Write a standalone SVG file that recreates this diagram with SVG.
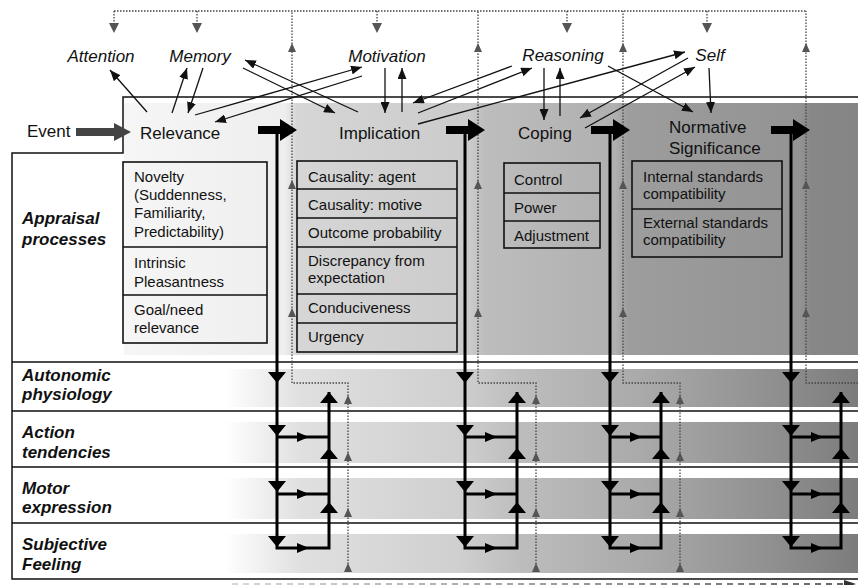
<svg xmlns="http://www.w3.org/2000/svg" width="858" height="585" viewBox="0 0 858 585">
<defs>
<linearGradient id="gTop" gradientUnits="userSpaceOnUse" x1="0" y1="0" x2="858" y2="0">
<stop offset="0.143" stop-color="#f6f6f6"/>
<stop offset="0.332" stop-color="#eeeeee"/>
<stop offset="0.346" stop-color="#d6d6d6"/>
<stop offset="0.548" stop-color="#cbcbcb"/>
<stop offset="0.564" stop-color="#bdbdbd"/>
<stop offset="0.717" stop-color="#b0b0b0"/>
<stop offset="0.732" stop-color="#9d9d9d"/>
<stop offset="0.932" stop-color="#939393"/>
<stop offset="0.946" stop-color="#878787"/>
<stop offset="1" stop-color="#858585"/>
</linearGradient>
<linearGradient id="gRow" gradientUnits="userSpaceOnUse" x1="0" y1="0" x2="858" y2="0">
<stop offset="0.262" stop-color="#ffffff"/>
<stop offset="0.35" stop-color="#e0e0e0"/>
<stop offset="0.536" stop-color="#cfcfcf"/>
<stop offset="0.606" stop-color="#bdbdbd"/>
<stop offset="0.746" stop-color="#aaaaaa"/>
<stop offset="0.909" stop-color="#8e8e8e"/>
<stop offset="1" stop-color="#7c7c7c"/>
</linearGradient>
<linearGradient id="gDash" gradientUnits="userSpaceOnUse" x1="230" y1="0" x2="858" y2="0">
<stop offset="0" stop-color="#cccccc"/>
<stop offset="1" stop-color="#333333"/>
</linearGradient>
<marker id="ah" viewBox="0 0 11 9" refX="11" refY="4.5" markerWidth="11" markerHeight="9" markerUnits="userSpaceOnUse" orient="auto">
<path d="M0,0 L11,4.5 L0,9 z" fill="#111"/>
</marker>
<marker id="ahg" viewBox="0 0 10 8" refX="10" refY="4" markerWidth="10" markerHeight="8" markerUnits="userSpaceOnUse" orient="auto">
<path d="M0,0 L10,4 L0,8 z" fill="#444"/>
</marker>
<style>
.t{font-family:"Liberation Sans",Arial,Helvetica,sans-serif;fill:#111}
.lab{font-size:17px;font-style:italic}
.stg{font-size:17px}
.row{font-size:17px;font-weight:bold;font-style:italic}
.bx{font-size:15px}
.box{fill:none;stroke:#111;stroke-width:1.6}
.frame{fill:none;stroke:#111;stroke-width:1.5}
.ta{fill:none;stroke:#111;stroke-width:1.3;marker-end:url(#ah)}
.sol{fill:none;stroke:#000;stroke-width:3}
.tri{fill:#000}
.dot{fill:none;stroke:#444;stroke-width:1.3;stroke-dasharray:1.5 1.5}
.gtri{fill:#555}
</style>
</defs>
<rect x="0" y="0" width="858" height="585" fill="#ffffff"/>

<g id="shading">
<rect x="124" y="103" width="734" height="252" fill="url(#gTop)"/>
<rect x="13" y="369" width="845" height="38" fill="url(#gRow)"/>
<rect x="13" y="422" width="845" height="41" fill="url(#gRow)"/>
<rect x="13" y="478" width="845" height="41" fill="url(#gRow)"/>
<rect x="13" y="534" width="845" height="39" fill="url(#gRow)"/>
</g>

<g id="frame">
<path class="frame" d="M858,97 H123 V153 H12 V579 H858"/>
<path class="frame" d="M12,362 H858 M12,411 H858 M12,467 H858 M12,523 H858"/>
<path d="M232,584 H846" fill="none" stroke="url(#gDash)" stroke-width="1.5" stroke-dasharray="6 5"/>
<path d="M844,580 L856,584 L844,588 z" fill="#333"/>
</g>

<g id="event">
<text class="t stg" x="27" y="137">Event</text>
<path d="M76,128 H116 V136 H76 z" fill="#444"/>
<path d="M114,123 L131,132 L114,141 z" fill="#444"/>
</g>

<g id="relevance">
<text class="t stg" x="140" y="139">Relevance</text>
<rect class="box" x="123" y="162" width="144" height="181"/>
<path class="box" d="M123,247 H267 M123,295 H267"/>
<text class="t bx" x="134" y="182">Novelty</text>
<text class="t bx" x="134" y="200">(Suddenness,</text>
<text class="t bx" x="134" y="218">Familiarity,</text>
<text class="t bx" x="134" y="237">Predictability)</text>
<text class="t bx" x="134" y="268">Intrinsic</text>
<text class="t bx" x="134" y="287">Pleasantness</text>
<text class="t bx" x="134" y="315">Goal/need</text>
<text class="t bx" x="134" y="333">relevance</text>
</g>

<g id="implication">
<text class="t stg" x="339" y="139">Implication</text>
<rect class="box" x="297" y="161" width="160" height="191"/>
<path class="box" d="M297,189 H457 M297,218 H457 M297,247 H457 M297,294 H457 M297,323 H457"/>
<text class="t bx" x="308" y="182">Causality: agent</text>
<text class="t bx" x="308" y="210">Causality: motive</text>
<text class="t bx" x="308" y="238">Outcome probability</text>
<text class="t bx" x="308" y="266">Discrepancy from</text>
<text class="t bx" x="308" y="283">expectation</text>
<text class="t bx" x="308" y="313">Conduciveness</text>
<text class="t bx" x="308" y="342">Urgency</text>
</g>

<g id="coping">
<text class="t stg" x="518" y="139">Coping</text>
<rect class="box" x="504" y="163" width="96" height="85"/>
<path class="box" d="M504,193 H600 M504,221 H600"/>
<text class="t bx" x="514" y="185">Control</text>
<text class="t bx" x="514" y="213">Power</text>
<text class="t bx" x="514" y="241">Adjustment</text>
</g>

<g id="normative">
<text class="t stg" x="669" y="133">Normative</text>
<text class="t stg" x="669" y="154">Significance</text>
<rect class="box" x="632" y="161" width="150" height="96"/>
<path class="box" d="M632,209 H782"/>
<text class="t bx" x="643" y="182">Internal standards</text>
<text class="t bx" x="643" y="199">compatibility</text>
<text class="t bx" x="643" y="228">External standards</text>
<text class="t bx" x="643" y="245">compatibility</text>
</g>

<g id="attention"><text class="t lab" x="101" y="62" text-anchor="middle">Attention</text></g>
<g id="memory"><text class="t lab" x="200" y="62" text-anchor="middle">Memory</text></g>
<g id="motivation"><text class="t lab" x="387" y="62" text-anchor="middle">Motivation</text></g>
<g id="reasoning"><text class="t lab" x="563" y="61" text-anchor="middle">Reasoning</text></g>
<g id="self"><text class="t lab" x="710" y="61" text-anchor="middle">Self</text></g>

<g id="row-labels">
<text class="t row" x="22" y="224">Appraisal</text>
<text class="t row" x="22" y="245">processes</text>
<text class="t row" x="22" y="381">Autonomic</text>
<text class="t row" x="22" y="400">physiology</text>
<text class="t row" x="22" y="438">Action</text>
<text class="t row" x="22" y="458">tendencies</text>
<text class="t row" x="22" y="494">Motor</text>
<text class="t row" x="22" y="513">expression</text>
<text class="t row" x="22" y="550">Subjective</text>
<text class="t row" x="22" y="570">Feeling</text>
</g>

<g id="connectors">
<!-- dotted feedback loops -->
<path class="dot" d="M114,11 H806 M114,11 V24 M197,11 V24 M377,11 V24 M567,11 V24 M707,11 V24"/>
<path class="gtri" d="M109,23 L119,23 L114,33 z M192,23 L202,23 L197,33 z M372,23 L382,23 L377,33 z M562,23 L572,23 L567,33 z M702,23 L712,23 L707,33 z"/>
<path class="dot" d="M348,570 V383 H292 V11"/>
<path class="dot" d="M536,570 V383 H478 V11"/>
<path class="dot" d="M680,570 V383 H623 V11"/>
<path class="dot" d="M858,383 H806 V11"/>
<path class="gtri" d="M292,43 L296,52 L288,52 z M292,180 L296,189 L288,189 z M292,308 L296,317 L288,317 z
 M478,43 L482,52 L474,52 z M478,180 L482,189 L474,189 z M478,308 L482,317 L474,317 z
 M623,43 L627,52 L619,52 z M623,180 L627,189 L619,189 z M623,308 L627,317 L619,317 z
 M806,43 L810,52 L802,52 z M806,180 L810,189 L802,189 z M806,308 L810,317 L802,317 z
 M348,395 L352,404 L344,404 z M348,452 L352,461 L344,461 z M348,508 L352,517 L344,517 z M348,563 L352,572 L344,572 z
 M536,395 L540,404 L532,404 z M536,452 L540,461 L532,461 z M536,508 L540,517 L532,517 z M536,563 L540,572 L532,572 z
 M680,395 L684,404 L676,404 z M680,452 L684,461 L676,461 z M680,508 L684,517 L676,517 z M680,563 L684,572 L676,572 z"/>

<!-- thin arrows between stages and functions -->
<path class="ta" d="M147,112 L110,70"/>
<path class="ta" d="M172,113 L187,68"/>
<path class="ta" d="M203,68 L188,113"/>
<path class="ta" d="M195,115 L362,67"/>
<path class="ta" d="M362,76 L215,122"/>
<path class="ta" d="M243,68 L335,113"/>
<path class="ta" d="M358,112 L245,60"/>
<path class="ta" d="M385,68 L385,113"/>
<path class="ta" d="M402,112 L402,68"/>
<path class="ta" d="M512,66 L413,103"/>
<path class="ta" d="M418,113 L532,68"/>
<path class="ta" d="M418,124 L685,52"/>
<path class="ta" d="M544,68 L544,120"/>
<path class="ta" d="M560,116 L560,68"/>
<path class="ta" d="M688,58 L580,118"/>
<path class="ta" d="M585,128 L695,67"/>
<path class="ta" d="M608,66 L693,112"/>
<path class="ta" d="M709,68 L711,113"/>

<!-- stage 1 -->
<path class="tri" d="M258,126 H281 V134 H258 z M280,119 L297,130 L280,141 z"/>
<path class="sol" d="M277,126 V548 H329 V392 M277,437 H329 M277,494 H329"/>
<path class="tri" d="M268,372 L286,372 L277,383 z M268,425 L286,425 L277,436 z M268,481 L286,481 L277,492 z M268,536 L286,536 L277,547 z
 M320,403 L338,403 L329,392 z M320,459 L338,459 L329,448 z M320,513 L338,513 L329,502 z
 M297,432 L309,437 L297,442 z M297,489 L309,494 L297,499 z M297,543 L309,548 L297,553 z"/>

<!-- stage 2 -->
<path class="tri" d="M446,126 H469 V134 H446 z M468,119 L485,130 L468,141 z"/>
<path class="sol" d="M465,126 V548 H517 V392 M465,437 H517 M465,494 H517"/>
<path class="tri" d="M456,372 L474,372 L465,383 z M456,425 L474,425 L465,436 z M456,481 L474,481 L465,492 z M456,536 L474,536 L465,547 z
 M508,403 L526,403 L517,392 z M508,459 L526,459 L517,448 z M508,513 L526,513 L517,502 z
 M485,432 L497,437 L485,442 z M485,489 L497,494 L485,499 z M485,543 L497,548 L485,553 z"/>

<!-- stage 3 -->
<path class="tri" d="M591,126 H614 V134 H591 z M613,119 L630,130 L613,141 z"/>
<path class="sol" d="M610,126 V548 H661 V392 M610,437 H661 M610,494 H661"/>
<path class="tri" d="M601,372 L619,372 L610,383 z M601,425 L619,425 L610,436 z M601,481 L619,481 L610,492 z M601,536 L619,536 L610,547 z
 M652,403 L670,403 L661,392 z M652,459 L670,459 L661,448 z M652,513 L670,513 L661,502 z
 M630,432 L642,437 L630,442 z M630,489 L642,494 L630,499 z M630,543 L642,548 L630,553 z"/>

<!-- stage 4 -->
<path class="tri" d="M771,126 H794 V134 H771 z M793,119 L810,130 L793,141 z"/>
<path class="sol" d="M791,126 V548 H841 V392 M791,437 H841 M791,494 H841"/>
<path class="tri" d="M782,372 L800,372 L791,383 z M782,425 L800,425 L791,436 z M782,481 L800,481 L791,492 z M782,536 L800,536 L791,547 z
 M832,403 L850,403 L841,392 z M832,459 L850,459 L841,448 z M832,513 L850,513 L841,502 z
 M811,432 L823,437 L811,442 z M811,489 L823,494 L811,499 z M811,543 L823,548 L811,553 z"/>
</g>
</svg>
